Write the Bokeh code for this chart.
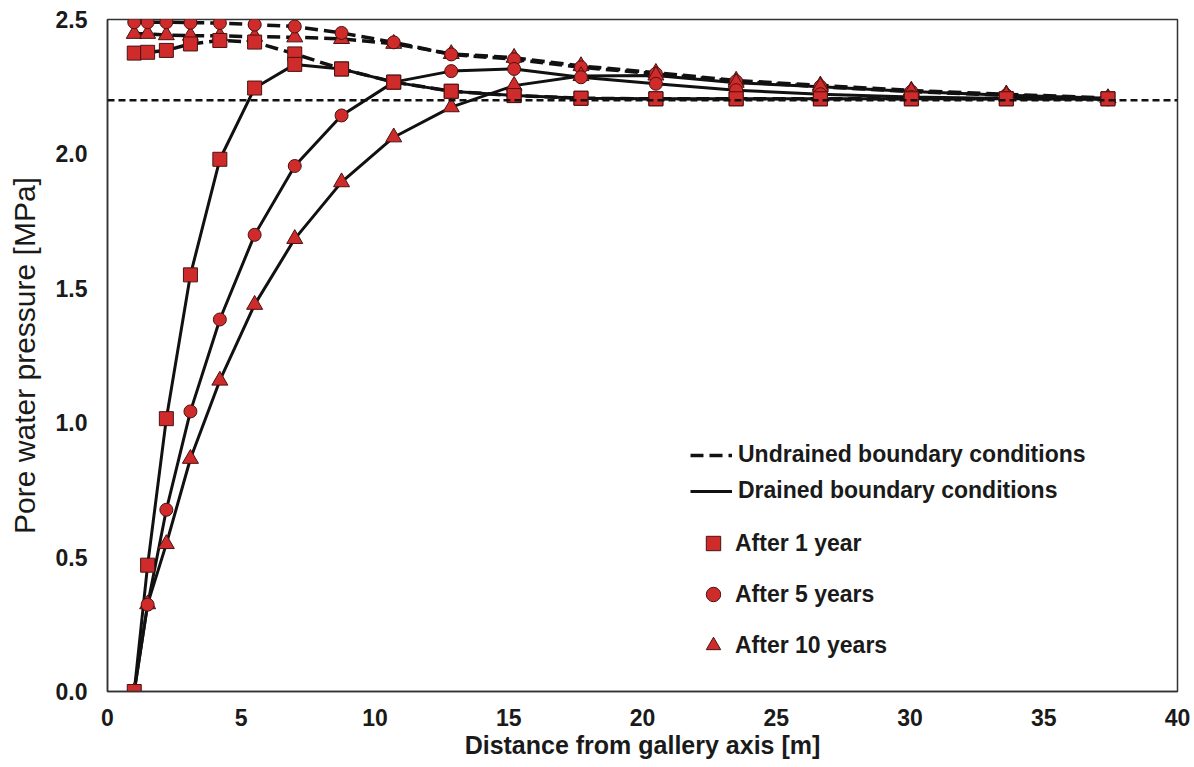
from bokeh.plotting import figure
from bokeh.models import Range1d, Legend, LegendItem, FixedTicker, Span
from bokeh.embed import file_html
from bokeh.resources import INLINE

# Data
distance = [1.0, 1.5, 2.2, 3.1, 4.2, 5.5, 7.0, 8.75, 10.7, 12.85, 15.2, 17.7,
            20.5, 23.5, 26.65, 30.05, 33.6, 37.4]

drained_1yr = [0.0, 0.47, 1.015, 1.55, 1.98, 2.245, 2.333, 2.316, 2.267, 2.233,
               2.217, 2.207, 2.205, 2.205, 2.205, 2.205, 2.205, 2.205]
drained_5yr = [0.0, 0.323, 0.676, 1.042, 1.384, 1.699, 1.955, 2.143, 2.267, 2.308,
               2.316, 2.285, 2.261, 2.237, 2.222, 2.212, 2.206, 2.203]
drained_10yr = [0.0, 0.325, 0.549, 0.866, 1.157, 1.439, 1.684, 1.895, 2.062, 2.174,
                2.254, 2.29, 2.292, 2.265, 2.25, 2.232, 2.218, 2.207]

undrained_1yr = [2.375, 2.378, 2.385, 2.409, 2.422, 2.416, 2.372, 2.316, 2.267, 2.233,
                 2.217, 2.207, 2.205, 2.205, 2.205, 2.205, 2.205, 2.205]
undrained_5yr = [2.49, 2.49, 2.49, 2.488, 2.487, 2.481, 2.474, 2.45, 2.415, 2.37,
                 2.352, 2.322, 2.298, 2.27, 2.25, 2.232, 2.218, 2.205]
undrained_10yr = [2.447, 2.447, 2.442, 2.44, 2.439, 2.436, 2.434, 2.428, 2.41, 2.372,
                  2.358, 2.327, 2.302, 2.273, 2.255, 2.236, 2.222, 2.208]

initial_pressure = 2.2

x_ticks = [0, 5, 10, 15, 20, 25, 30, 35, 40]
y_ticks = [0.0, 0.5, 1.0, 1.5, 2.0, 2.5]

series_labels = ["After 1 year", "After 5 years", "After 10 years"]
line_labels = ["Undrained boundary conditions", "Drained boundary conditions"]

FONT = "Liberation Sans"
RED = "#cf2b2b"
EDGE = "#4a1212"

p = figure(width=1194, height=767, output_backend="svg", toolbar_location=None,
           x_range=Range1d(0, 40), y_range=Range1d(0, 2.5),
           min_border_left=107, min_border_right=17, min_border_top=19,
           min_border_bottom=76)
p.background_fill_color = "white"
p.border_fill_color = "white"
p.xgrid.visible = False
p.ygrid.visible = False
p.outline_line_color = "#333333"
p.outline_line_width = 1.5

for ax in (p.xaxis[0], p.yaxis[0]):
    ax.axis_line_color = "#333333"
    ax.axis_line_width = 1.5
    ax.major_tick_in = 0
    ax.major_tick_out = 0
    ax.minor_tick_in = 0
    ax.minor_tick_out = 0
    ax.major_label_text_font = FONT
    ax.major_label_text_font_style = "bold"
    ax.major_label_text_color = "#1a1a1a"
    ax.axis_label_text_font = FONT
    ax.axis_label_text_color = "#1a1a1a"

p.xaxis.ticker = FixedTicker(ticks=x_ticks)
p.yaxis.ticker = FixedTicker(ticks=y_ticks)
p.xaxis.major_label_overrides = {t: str(t) for t in x_ticks}
p.yaxis.major_label_overrides = {t: f"{t:.1f}" for t in y_ticks}
p.xaxis.major_label_text_font_size = "23px"
p.yaxis.major_label_text_font_size = "23px"
p.xaxis.major_label_standoff = 17
p.yaxis.major_label_standoff = 20

p.xaxis.axis_label = "Distance from gallery axis [m]"
p.xaxis.axis_label_text_font_size = "25px"
p.xaxis.axis_label_text_font_style = "bold"
p.xaxis.axis_label_standoff = 2
p.yaxis.axis_label = "Pore water pressure [MPa]"
p.yaxis.axis_label_text_font_size = "30px"
p.yaxis.axis_label_text_font_style = "normal"
p.yaxis.axis_label_standoff = 12

# reference initial pore pressure line
p.add_layout(Span(location=initial_pressure, dimension="width", line_color="#111111",
                  line_width=2.5, line_dash="7 4"))

# lines
und_lines = []
for ys in (undrained_1yr, undrained_5yr, undrained_10yr):
    und_lines.append(p.line(distance, ys, line_color="#111111", line_width=3.5,
                            line_dash="13 6"))
dr_lines = []
for ys in (drained_1yr, drained_5yr, drained_10yr):
    dr_lines.append(p.line(distance, ys, line_color="#111111", line_width=3))

# markers
markers = ["square", "circle", "triangle"]
sizes = [14, 13, 16]
und_sets = [undrained_1yr, undrained_5yr, undrained_10yr]
dr_sets = [drained_1yr, drained_5yr, drained_10yr]
for i in (2, 1, 0):
    p.scatter(distance, und_sets[i], marker=markers[i], size=sizes[i],
              fill_color=RED, line_color=EDGE, line_width=1)
marker_renderers = [None, None, None]
for i in (2, 1, 0):
    marker_renderers[i] = p.scatter(distance, dr_sets[i], marker=markers[i], size=sizes[i],
                                    fill_color=RED, line_color=EDGE, line_width=1)

legend_lines = Legend(
    items=[LegendItem(label=line_labels[0], renderers=[und_lines[0]]),
           LegendItem(label=line_labels[1], renderers=[dr_lines[0]])],
    location=(583, 187), orientation="vertical",
    glyph_width=42, glyph_height=26, label_height=26, label_standoff=6,
    spacing=9, padding=0, margin=0,
    border_line_color=None, background_fill_alpha=0,
    label_text_font=FONT, label_text_font_size="23px", label_text_font_style="bold",
    label_text_color="#1a1a1a")
p.add_layout(legend_lines)

legend_markers = Legend(
    items=[LegendItem(label=series_labels[i], renderers=[marker_renderers[i]]) for i in range(3)],
    location=(588, 28), orientation="vertical",
    glyph_width=36, glyph_height=36, label_height=26, label_standoff=4,
    spacing=15, padding=0, margin=0,
    border_line_color=None, background_fill_alpha=0,
    label_text_font=FONT, label_text_font_size="23px", label_text_font_style="bold",
    label_text_color="#1a1a1a")
p.add_layout(legend_markers)

open("out.html", "w").write(file_html(p, INLINE))
